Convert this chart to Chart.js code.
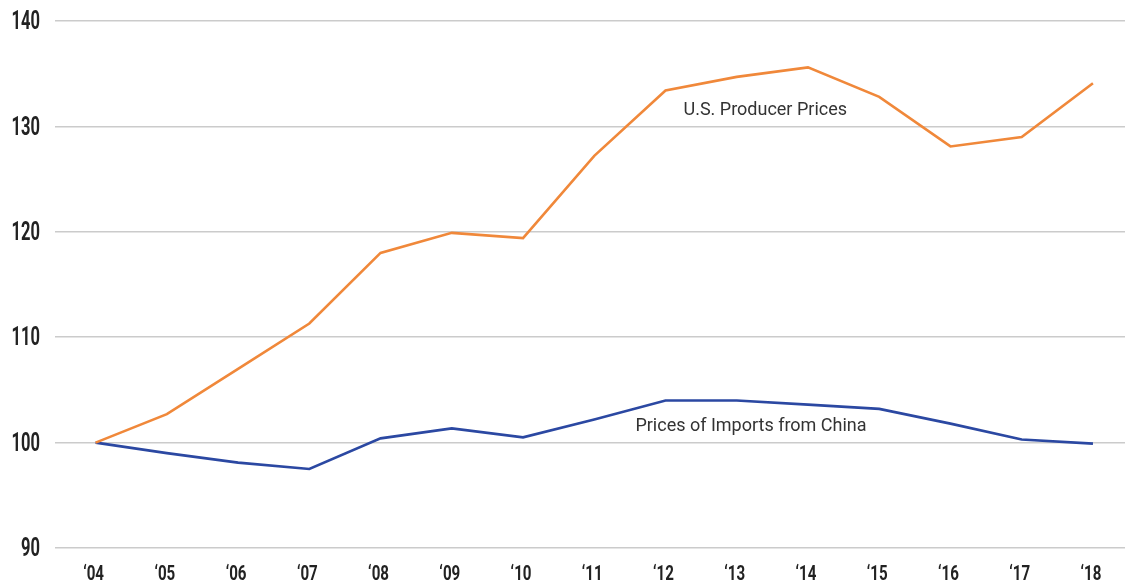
<!DOCTYPE html>
<html>
<head>
<meta charset="utf-8">
<script src="https://cdn.jsdelivr.net/npm/chart.js@4/dist/chart.umd.min.js"></script>
<style>
  html, body { margin: 0; padding: 0; background: #fff; }
  #wrap { width: 1125px; height: 585px; position: relative; }
</style>
</head>
<body>
<div id="wrap"><canvas id="chart"></canvas></div>
<script>
const years = ["\u201804", "\u201805", "\u201806", "\u201807", "\u201808", "\u201809", "\u201810",
               "\u201811", "\u201812", "\u201813", "\u201814", "\u201815", "\u201816", "\u201817", "\u201818"];

const producer_prices = [100, 102.7, 107.0, 111.3, 118.0, 119.9, 119.4, 127.2, 133.4, 134.7, 135.6, 132.8, 128.1, 129.0, 134.1];
const china_imports = [100, 99.0, 98.1, 97.5, 100.4, 101.35, 100.5, 102.2, 104.0, 104.0, 103.6, 103.2, 101.8, 100.3, 99.9];

const y_ticks = [90, 100, 110, 120, 130, 140];

// series names written on the plot, placed in data units
const series_labels = [
  { text: "U.S. Producer Prices", x: 9.4, y: 131.5 },
  { text: "Prices of Imports from China", x: 9.2, y: 101.5 }
];

const colours = { producer: "#f0883a", china: "#2b48a2", grid: "#cbcbcb", text: "#222", label: "#333" };
const font_family = "Roboto, 'Liberation Sans', sans-serif";

const toPoints = (vals) => vals.map((v, i) => ({ x: i, y: v }));

// draw text squeezed sideways, the original uses a condensed face
function narrowText(ctx, text, x, y, squeeze) {
  ctx.save();
  ctx.translate(x, y);
  ctx.scale(squeeze, 1);
  ctx.fillText(text, 0, 0);
  ctx.restore();
}

const textPlugin = {
  id: "condensedText",
  afterDatasetsDraw(chart) {
    const { ctx, scales } = chart;
    ctx.save();
    ctx.textBaseline = "middle";

    // y axis labels
    ctx.fillStyle = colours.text;
    ctx.font = "bold 25px " + font_family;
    ctx.textAlign = "right";
    y_ticks.forEach(v => narrowText(ctx, String(v), 40, scales.y.getPixelForValue(v) + 2, 0.66));

    // x axis labels
    ctx.font = "bold 21px " + font_family;
    ctx.textAlign = "center";
    years.forEach((t, i) => narrowText(ctx, t, scales.x.getPixelForValue(i) - 2, 575, 0.72));

    // series names
    ctx.fillStyle = colours.label;
    ctx.font = "18px " + font_family;
    series_labels.forEach(l => {
      narrowText(ctx, l.text, scales.x.getPixelForValue(l.x), scales.y.getPixelForValue(l.y), 1.0);
    });
    ctx.restore();
  }
};

new Chart(document.getElementById("chart").getContext("2d"), {
  type: "line",
  data: {
    datasets: [
      {
        label: "U.S. Producer Prices",
        data: toPoints(producer_prices),
        borderColor: colours.producer,
        backgroundColor: colours.producer,
        borderWidth: 2.6,
        pointRadius: 0,
        tension: 0
      },
      {
        label: "Prices of Imports from China",
        data: toPoints(china_imports),
        borderColor: colours.china,
        backgroundColor: colours.china,
        borderWidth: 2.6,
        pointRadius: 0,
        tension: 0
      }
    ]
  },
  options: {
    responsive: true,
    maintainAspectRatio: false,
    animation: false,
    layout: { padding: { top: 21, right: 0, left: 0, bottom: 0 } },
    plugins: {
      legend: { display: false },
      tooltip: { enabled: false }
    },
    scales: {
      x: {
        type: "linear",
        min: -0.57,
        max: 14.45,
        afterBuildTicks: (axis) => { axis.ticks = years.map((_, i) => ({ value: i })); },
        afterFit: (axis) => { axis.height = 37; },
        grid: { display: false, drawTicks: false },
        border: { display: false },
        ticks: { display: false }
      },
      y: {
        min: 90,
        max: 140,
        afterBuildTicks: (axis) => { axis.ticks = y_ticks.map(v => ({ value: v })); },
        afterFit: (axis) => { axis.width = 55; },
        grid: { color: colours.grid, lineWidth: 1.5, drawTicks: false },
        border: { display: false },
        ticks: { display: false }
      }
    }
  },
  plugins: [textPlugin]
});
</script>
</body>
</html>
